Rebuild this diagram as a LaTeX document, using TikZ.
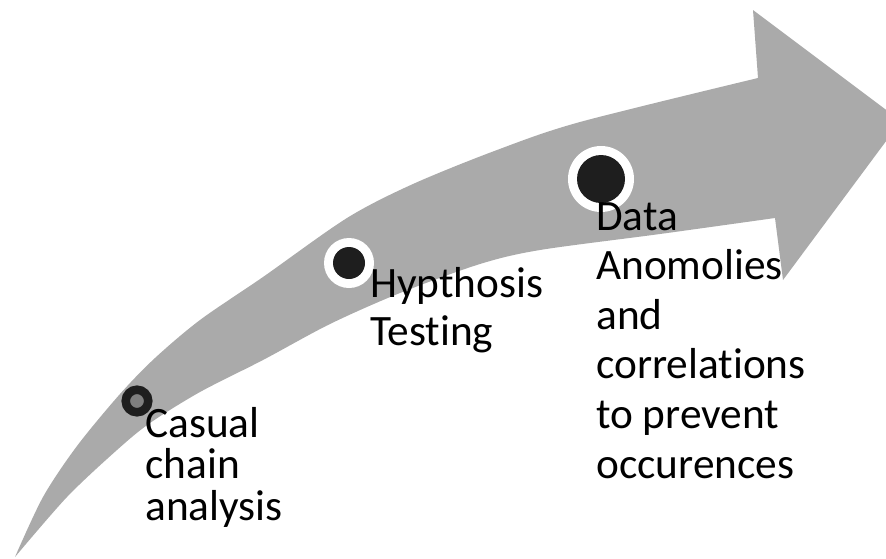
\documentclass[tikz,border=0pt]{standalone}
\usepackage{fontspec}
\setmainfont{Carlito}[Ligatures=NoCommon]
\definecolor{arrowgray}{HTML}{AAAAAA}
\definecolor{dotblack}{HTML}{1E1E1E}
\definecolor{ringgray}{HTML}{7F7F7F}

\begin{document}
\begin{tikzpicture}[x=0.75pt,y=-0.75pt,
    stage/.style={align=left, inner sep=0pt, anchor=base west},
    halo/.style={circle, fill=white, inner sep=0pt},
    ball/.style={circle, fill=dotblack, inner sep=0pt}]
    \clip (0,0) rectangle (886,558);

    % curved arrow
    \fill[arrowgray] plot[smooth] coordinates {(15,557) (43,497) (77,446) (120,394) (155,358) (200,320) (263,277) (347,218) (413,184) (497,150) (580,122) (758,78)}
        -- (753,10) -- (901,121) -- (783,280) -- (775,218)
        -- plot[smooth] coordinates {(775,218) (660,234) (540,250) (480,264) (400,293) (330,324) (263,360) (200,392) (150,423) (117,450) (67,497) (15,557)} -- cycle;

    % milestones
    \node[circle, draw=dotblack, fill=ringgray, line width=6.4pt, minimum size=16.9pt, inner sep=0pt] (m1) at (137,401) {};
    \node[halo, minimum size=37.5pt] (h2) at (349,263) {};
    \node[ball, minimum size=24pt] (m2) at (h2) {};
    \node[halo, minimum size=49.5pt] (h3) at (601,179) {};
    \node[ball, minimum size=36pt] (m3) at (h3) {};

    % labels (base = last line)
    \node[stage, font=\fontsize{32.5}{31}\selectfont] (casual) at (145,520) {Casual\\chain\\analysis};
    \node[stage, font=\fontsize{32.5}{36}\selectfont] (hypo) at (370,345) {Hypthosis\\Testing};
    \node[stage, font=\fontsize{32.5}{37.2}\selectfont] (data) at (596,478) {Data\\Anomolies\\and\\correlations\\to prevent\\occurences};
\end{tikzpicture}
\end{document}
